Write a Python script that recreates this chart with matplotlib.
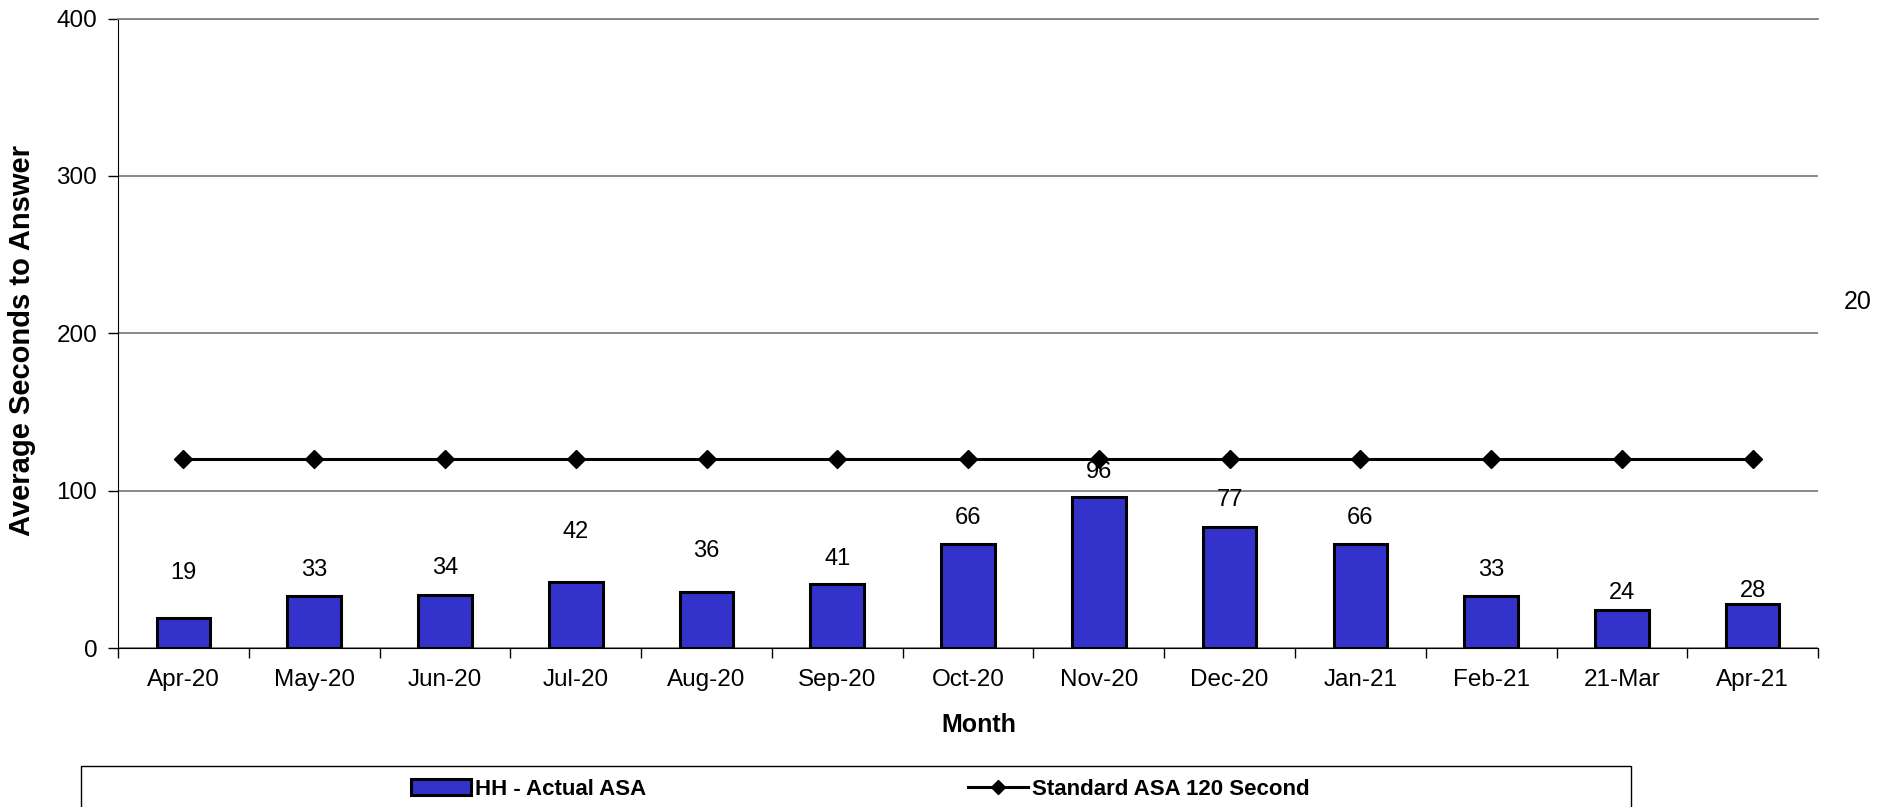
import matplotlib
matplotlib.use("Agg")
import matplotlib.pyplot as plt
from matplotlib.patches import Rectangle
import numpy as np

plt.rcParams['font.family'] = ['Liberation Sans', 'DejaVu Sans']

months = ["Apr-20", "May-20", "Jun-20", "Jul-20", "Aug-20", "Sep-20", "Oct-20",
          "Nov-20", "Dec-20", "Jan-21", "Feb-21", "21-Mar", "Apr-21"]
actual_asa = [19, 33, 34, 42, 36, 41, 66, 96, 77, 66, 33, 24, 28]
standard_asa = [120] * 13
# heights (data units) where Excel put each value label
label_y = [48, 50, 51, 74, 62, 57, 83, 112, 94, 83, 50, 35, 36.5]

fig = plt.figure(figsize=(18.95, 8.07), dpi=100)
ax = fig.add_axes([0.0623, 0.1967, 0.8971, 0.7803])

x = np.arange(len(months))
ax.bar(x, actual_asa, width=0.41, color="#3333CC", edgecolor="black",
       linewidth=2.2, zorder=3, label="HH - Actual ASA")
ax.plot(x, standard_asa, color="black", linewidth=2.2, marker="D",
        markersize=9, zorder=4, label="Standard ASA 120 Second")

for xi, v, ly in zip(x, actual_asa, label_y):
    ax.text(xi, ly, str(v), ha="center", va="center", fontsize=17, zorder=5)

ax.set_xlim(-0.5, len(months) - 0.5)
ax.set_ylim(0, 400)
ax.set_yticks([0, 100, 200, 300, 400])
ax.yaxis.grid(True, color="#808080", linewidth=1.3, zorder=0)
ax.set_axisbelow(True)

# category boundaries as major ticks, labels on minor ticks at centres
ax.set_xticks(np.arange(-0.5, len(months), 1.0))
ax.set_xticklabels([])
ax.set_xticks(x, minor=True)
ax.set_xticklabels(months, minor=True)
ax.tick_params(axis="x", which="major", length=7, width=1, color="black")
ax.tick_params(axis="x", which="minor", length=0, pad=15, labelsize=17.5)
ax.tick_params(axis="y", length=7, width=1, pad=8, labelsize=17.5)

ax.spines["right"].set_visible(False)
ax.spines["top"].set_color("#808080")
ax.spines["top"].set_linewidth(1.3)
ax.spines["left"].set_color("black")
ax.spines["bottom"].set_color("black")

fig.text(0.5166, 1 - 725 / 807, "Month", fontsize=18, fontweight="bold",
         ha="center", va="center")
fig.text(22 / 1895, 1 - 340 / 807, "Average Seconds to Answer", fontsize=21,
         fontweight="bold", rotation=90, ha="center", va="center")

fig.text(0.9805, 0.6258, "20", fontsize=18, ha="center", va="center")

# legend box running off the bottom of the figure
fig.patches.append(Rectangle((0.0427, -0.05), 0.818, 0.1008, transform=fig.transFigure,
                             facecolor="white", edgecolor="black", linewidth=1))
handles, labels = ax.get_legend_handles_labels()
order = [labels.index("HH - Actual ASA"), labels.index("Standard ASA 120 Second")]
fig.legend([handles[i] for i in order], [labels[i] for i in order],
           loc="center", bbox_to_anchor=(0.454, 0.0223), ncol=2, frameon=False,
           prop={"size": 16, "weight": "bold"}, handlelength=2.7,
           handletextpad=0.18, columnspacing=14.5, markerscale=0.75)

fig.savefig("out.png", dpi=100)
